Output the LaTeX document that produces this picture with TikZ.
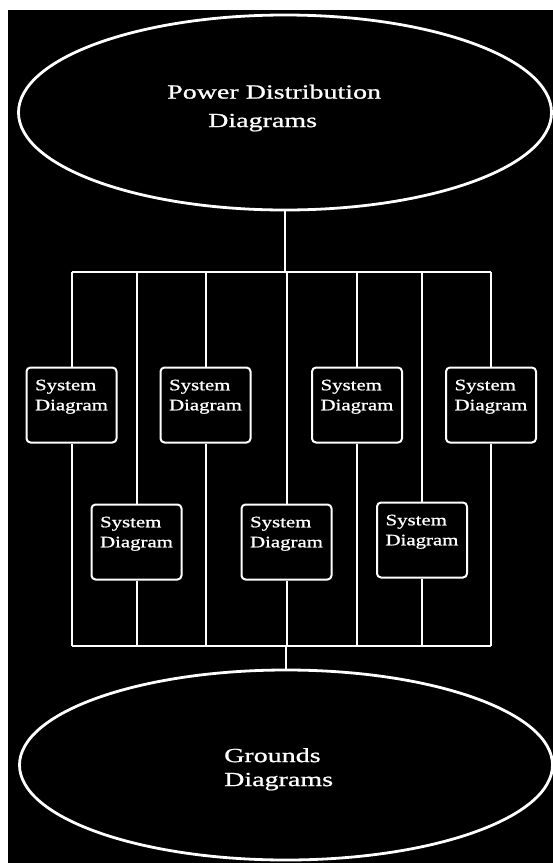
\documentclass[tikz,border=0pt]{standalone}
\usepackage{fontspec}
\usetikzlibrary{shapes.geometric}
\newfontfamily\boxfont{Liberation Serif}[FakeStretch=1.3,FakeBold=1]
\newfontfamily\ellfont{Liberation Serif}[FakeStretch=1.4,FakeBold=1]

\begin{document}
\begin{tikzpicture}[x=1pt, y=-1pt, every node/.style={text=white},
  wire/.style={draw=white, line width=2pt},
  bigoval/.style={ellipse, draw=white, line width=2.8pt, minimum width=533pt, inner sep=0pt},
  ovaltext/.style={align=left, inner sep=0pt, anchor=north west},
  sysbox/.style={draw=white, fill=black, line width=2pt, rounded corners=4pt,
    minimum width=90pt, minimum height=75pt, inner sep=0pt, align=left,
    text depth=20pt, font=\boxfont\fontsize{16}{20}\selectfont}]
  \useasboundingbox (0,0) rectangle (553,863);
  \fill[white] (0,0) rectangle (553,863);
  \fill[black] (8,10) rectangle (553,863);
  % top and bottom ovals
  \node[bigoval, minimum height=195pt] (pd) at (285,112.5) {};
  \node[ovaltext, font=\ellfont\fontsize{20}{28.5}\selectfont] (pdtext) at (167,84.5)
    {Power Distribution\\\hspace*{41pt}Diagrams};
  \node[bigoval, minimum height=190pt] (gd) at (286,765) {};
  \node[ovaltext, font=\ellfont\fontsize{20}{24}\selectfont] (gdtext) at (224,748)
    {Grounds\\Diagrams};
  % system diagrams, upper row
  \node[sysbox] (b1) at (71.5,405) {System\\Diagram};
  \node[sysbox] (b2) at (205.5,405) {System\\Diagram};
  \node[sysbox] (b3) at (357,405) {System\\Diagram};
  \node[sysbox] (b4) at (491,405) {System\\Diagram};
  % lower row
  \node[sysbox] (b5) at (136.5,542) {System\\Diagram};
  \node[sysbox] (b6) at (286.5,542) {System\\Diagram};
  \node[sysbox] (b7) at (422,540) {System\\Diagram};
  % buses
  \coordinate (tbus) at (285,272);
  \coordinate (bbus) at (286,646);
  \draw[wire] (pd.south) -- (pd.south |- tbus);
  \draw[wire] (b1.north |- tbus) -- (b4.north |- tbus);
  \draw[wire] (b1.south |- bbus) -- (b4.south |- bbus);
  \draw[wire] (gd.north |- bbus) -- (gd.north);
  \foreach \b in {b1,b2,b3,b4,b5,b6,b7} {
    \draw[wire] (\b.north |- tbus) -- (\b.north);
    \draw[wire] (\b.south) -- (\b.south |- bbus);
  }
\end{tikzpicture}
\end{document}
